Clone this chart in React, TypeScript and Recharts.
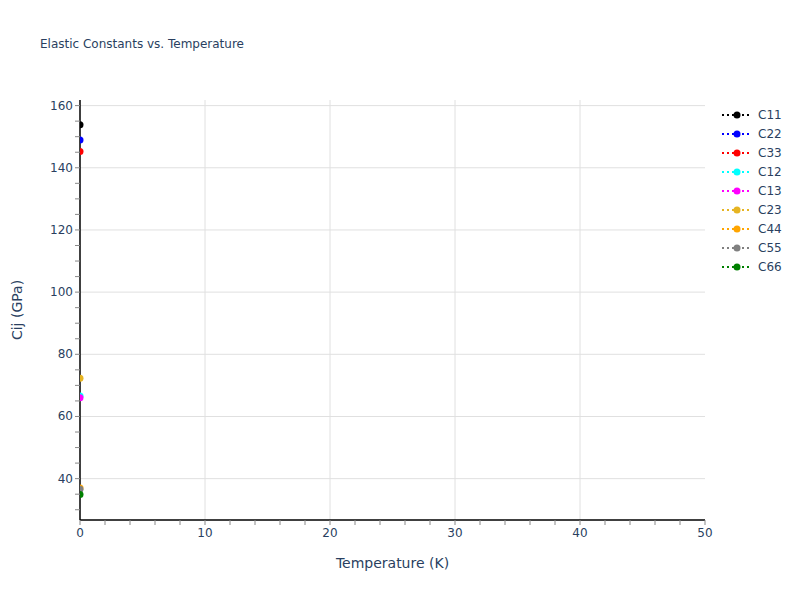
import React from "react";
import { ScatterChart, Scatter, XAxis, YAxis, ReferenceLine } from "recharts";

const SERIES = ["C11", "C22", "C33", "C12", "C13", "C23", "C44", "C55", "C66"];
const COLORS = ["#000000", "#0000ff", "#ff0000", "#00ffff", "#ff00ff", "#e6b422", "#ffa500", "#808080", "#008000"];
const TEMPERATURE = [0];
const VALUES = [
  [153.8],
  [148.9],
  [145.2],
  [66.6],
  [66.0],
  [72.3],
  [37.0],
  [36.6],
  [34.9],
];

const X_TICKS = [0, 2, 4, 6, 8, 10, 12, 14, 16, 18, 20, 22, 24, 26, 28, 30, 32, 34, 36, 38, 40, 42, 44, 46, 48, 50];
const X_GRID = [10, 20, 30, 40];
const Y_TICKS = [30, 35, 40, 45, 50, 55, 60, 65, 70, 75, 80, 85, 90, 95, 100, 105, 110, 115, 120, 125, 130, 135, 140, 145, 150, 155, 160];
const Y_GRID = [40, 60, 80, 100, 120, 140, 160];

const FONT = '"DejaVu Sans", verdana, arial, sans-serif';
const TEXT = "#2a3f5f";

const XTick = (props: any) => {
  const v = props.payload.value;
  if (v % 10 !== 0) return <g />;
  return (
    <text x={props.x} y={props.y + 10} textAnchor="middle" fontSize={12} fill={TEXT} fontFamily={FONT}>
      {v}
    </text>
  );
};

const YTick = (props: any) => {
  const v = props.payload.value;
  if (v % 20 !== 0) return <g />;
  return (
    <text x={props.x} y={props.y + 4} textAnchor="end" fontSize={12} fill={TEXT} fontFamily={FONT}>
      {v}
    </text>
  );
};

const LegendBox = () => (
  <svg width={80} height={180} style={{ position: "absolute", left: 720, top: 105 }}>
    {SERIES.map((name, i) => {
      const y = 10 + i * 19;
      return (
        <g key={name}>
          <line x1={2} x2={32} y1={y} y2={y} stroke={COLORS[i]} strokeWidth={2} strokeDasharray="2 3" />
          <circle cx={17} cy={y} r={3.5} fill={COLORS[i]} />
          <text x={38} y={y + 4} fontSize={12} fill={TEXT} fontFamily={FONT}>
            {name}
          </text>
        </g>
      );
    })}
  </svg>
);

export default function App() {
  return (
    <div style={{ position: "absolute", left: 0, top: 0, width: 800, height: 600, background: "#fff" }}>
      <div style={{ position: "absolute", left: 40, top: 37, fontSize: 12, color: TEXT, fontFamily: FONT }}>
        Elastic Constants vs. Temperature
      </div>
      <ScatterChart width={800} height={600} margin={{ top: 100, right: 95, bottom: 50, left: 40 }}>
        {X_GRID.map((v) => (
          <ReferenceLine key={"x" + v} x={v} stroke="#e0e0e0" strokeWidth={1} />
        ))}
        {Y_GRID.map((v) => (
          <ReferenceLine key={"y" + v} y={v} stroke="#e0e0e0" strokeWidth={1} />
        ))}
        <XAxis
          type="number"
          dataKey="x"
          domain={[0, 50]}
          ticks={X_TICKS}
          interval={0}
          height={30}
          allowDataOverflow
          axisLine={{ stroke: "#000", strokeWidth: 1.5 }}
          tickLine={{ stroke: "#888" }}
          tickSize={5}
          tick={XTick}
          label={{ value: "Temperature (K)", position: "bottom", offset: 8, fontSize: 14, fill: TEXT, fontFamily: FONT }}
        />
        <YAxis
          type="number"
          dataKey="y"
          domain={[26.7, 161.8]}
          ticks={Y_TICKS}
          interval={0}
          width={40}
          allowDataOverflow
          axisLine={{ stroke: "#000", strokeWidth: 1.5 }}
          tickLine={{ stroke: "#888" }}
          tickSize={5}
          tick={YTick}
          label={{
            content: () => (
              <text x={22} y={310} transform="rotate(-90,22,310)" textAnchor="middle" fontSize={14} fill={TEXT} fontFamily={FONT}>
                Cij (GPa)
              </text>
            ),
          }}
        />
        {SERIES.map((name, i) => (
          <Scatter
            key={name}
            name={name}
            data={TEMPERATURE.map((t, j) => ({ x: t, y: VALUES[i][j] }))}
            fill={COLORS[i]}
            shape={(p: any) => <circle cx={p.cx} cy={p.cy} r={3.5} fill={COLORS[i]} />}
            isAnimationActive={false}
          />
        ))}
      </ScatterChart>
      <LegendBox />
    </div>
  );
}
